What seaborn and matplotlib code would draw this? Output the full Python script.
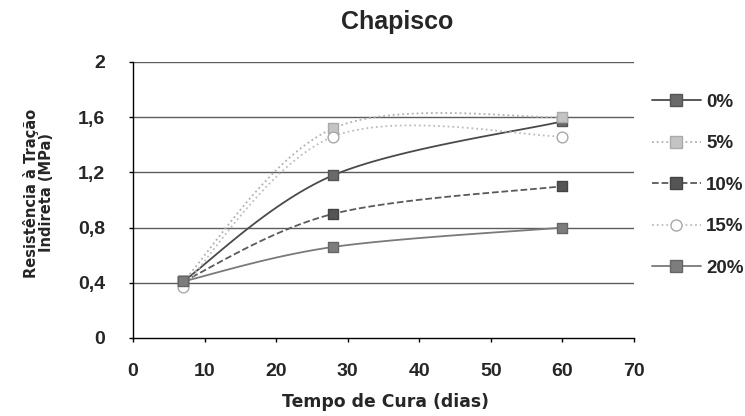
import numpy as np
import pandas as pd
import matplotlib
matplotlib.use("Agg")
import matplotlib.pyplot as plt
import seaborn as sns
from matplotlib.lines import Line2D

# ---- data ----
dias = [7, 28, 60]
serie_0 = [0.41, 1.18, 1.57]
serie_5 = [0.41, 1.52, 1.60]
serie_10 = [0.41, 0.90, 1.10]
serie_15 = [0.37, 1.46, 1.46]
serie_20 = [0.41, 0.66, 0.80]
rotulos = ["0%", "5%", "10%", "15%", "20%"]
x_ticks = [0, 10, 20, 30, 40, 50, 60, 70]
y_ticks = [0, 0.4, 0.8, 1.2, 1.6, 2]
y_tick_labels = ["0", "0,4", "0,8", "1,2", "1,6", "2"]
titulo = "Chapisco"
x_titulo = "Tempo de Cura (dias)"
y_titulo = "Resistência à Tração\nIndireta (MPa)"

series = [serie_0, serie_5, serie_10, serie_15, serie_20]

# styles
line_colors = ["#4a4a4a", "#b0b0b0", "#5a5a5a", "#bdbdbd", "#7a7a7a"]
line_styles = ["-", ":", "--", ":", "-"]
marker_face = ["#6a6a6a", "#c4c4c4", "#555555", "white", "#7d7d7d"]
marker_edge = ["#555555", "#aaaaaa", "#444444", "#a8a8a8", "#666666"]
markers = ["s", "s", "s", "o", "s"]


def smooth(xs, ys, sx, sy, n=40):
    """Excel-like Bezier smoothing computed in (approximate) screen space."""
    P = np.column_stack([np.asarray(xs, float) * sx, np.asarray(ys, float) * sy])
    out = []
    m = len(P)
    for i in range(m - 1):
        p0 = P[i - 1] if i > 0 else P[i]
        p1 = P[i]
        p2 = P[i + 1]
        p3 = P[i + 2] if i + 2 < m else P[i + 1]
        c1 = p1 + (p2 - p0) / 6.0
        c2 = p2 - (p3 - p1) / 6.0
        t = np.linspace(0, 1, n)[:, None]
        seg = ((1 - t) ** 3) * p1 + 3 * ((1 - t) ** 2) * t * c1 + 3 * (1 - t) * t ** 2 * c2 + t ** 3 * p2
        out.append(seg if i == 0 else seg[1:])
    out = np.vstack(out)
    return out[:, 0] / sx, out[:, 1] / sy


sns.set_theme(style="white")
plt.rcParams["font.family"] = ["Liberation Sans", "DejaVu Sans"]

fig = plt.figure(figsize=(7.45, 4.16), dpi=100)
ax = fig.add_axes([133 / 745, 1 - 338 / 416, (634 - 133) / 745, (338 - 62) / 416])

ax.set_xlim(0, 70)
ax.set_ylim(0, 2)

# gridlines
for yv in y_ticks[1:]:
    ax.axhline(yv, color="#5c5c5c", lw=1.0, zorder=1)

sx = 501 / 70
sy = 276 / 2
for vals, lc, ls, mf, me, mk in zip(series, line_colors, line_styles, marker_face, marker_edge, markers):
    xs, ys = smooth(dias, vals, sx, sy)
    df = pd.DataFrame({"x": xs, "y": ys})
    sns.lineplot(data=df, x="x", y="y", ax=ax, color=lc, linestyle=ls, lw=1.3,
                 sort=False, estimator=None, zorder=3)
    sns.scatterplot(x=dias, y=vals, ax=ax, marker=mk, s=60, color=mf,
                    edgecolor=me, linewidth=1.0, zorder=4)

ax.set_xticks(x_ticks)
ax.set_yticks(y_ticks)
ax.set_yticklabels(y_tick_labels)
ax.tick_params(axis="both", direction="out", length=3, width=1, color="black",
               labelsize=14, left=True, bottom=True)
ax.tick_params(axis="x", pad=15)
ax.tick_params(axis="y", pad=17)
for lab in ax.get_xticklabels() + ax.get_yticklabels():
    lab.set_fontweight("bold")
ax.set_xlabel("")
ax.set_ylabel("")

for s in ["top", "right"]:
    ax.spines[s].set_visible(False)
for s in ["left", "bottom"]:
    ax.spines[s].set_visible(True)
    ax.spines[s].set_color("black")
    ax.spines[s].set_linewidth(1.0)

fig.text(397 / 745, 1 - 22 / 416, titulo, ha="center", va="center",
         fontsize=18, fontweight="bold")
fig.text(386 / 745, 1 - 402 / 416, x_titulo, ha="center", va="center",
         fontsize=12.4, fontweight="bold", family=["DejaVu Sans"])
fig.text(39 / 745, 1 - 193 / 416, y_titulo, ha="center", va="center",
         rotation=90, fontsize=10.5, fontweight="bold", multialignment="center",
         family=["DejaVu Sans"], linespacing=1.0)

handles = []
for lc, ls, mf, me, mk in zip(line_colors, line_styles, marker_face, marker_edge, markers):
    handles.append(Line2D([], [], color=lc, linestyle=ls, lw=1.3, marker=mk,
                          markersize=8, markerfacecolor=mf, markeredgecolor=me))
leg = fig.legend(handles, rotulos, loc="center left",
                 bbox_to_anchor=(635 / 745, 1 - 185 / 416), frameon=False,
                 prop={"weight": "bold", "size": 13.5}, labelspacing=1.3,
                 handlelength=2.6, handletextpad=0.3)

fig.savefig("out.png", dpi=100)
